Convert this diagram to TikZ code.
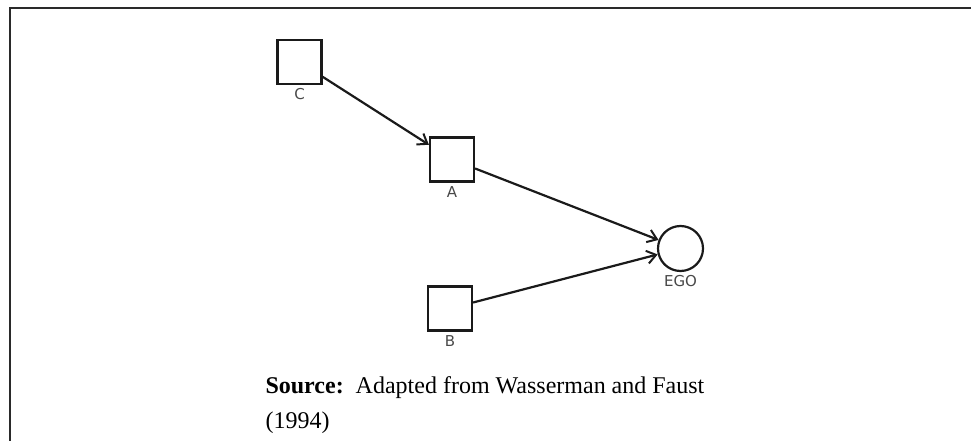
\documentclass[tikz,border=0pt]{standalone}
\usepackage{fontspec}
\setmainfont{Liberation Serif}
\newfontfamily\netfont{DejaVu Sans}
\usetikzlibrary{arrows.meta,positioning}
\definecolor{NetInk}{HTML}{1A1A1A}
\definecolor{NetLabel}{HTML}{484848}
\definecolor{FrameInk}{HTML}{2A2A2A}

\begin{document}
\begin{tikzpicture}[x=1pt,y=-1pt,
      actor/.style={rectangle,draw=NetInk,line width=2.2pt,fill=white,
        minimum size=44pt,inner sep=0pt},
      ego/.style={circle,draw=NetInk,line width=2.2pt,fill=white,
        minimum size=45pt,inner sep=0pt},
      tag/.style={label distance=2pt,label={[font=\netfont\fontsize{15}{16}\selectfont,
        text=NetLabel]below:#1}},
      tie/.style={-{Straight Barb[length=9pt,width=13pt,line width=2pt]},
        line width=2.2pt,color=NetInk}
    ]
      \useasboundingbox (0,0) rectangle (971,441);
      \draw[line width=2.6pt,color=FrameInk] (10,441) -- (10,8) -- (971,8);
      \node[actor,tag=C] (c) at (299.5,62) {};
      \node[actor,tag=A] (a) at (452,159.5) {};
      \node[actor,tag=B] (b) at (450,308.5) {};
      \node[ego,tag=EGO] (e) at (680.5,248.5) {};
      \draw[tie] (c) -- (a);
      \draw[tie] (a) -- (e);
      \draw[tie] (b) -- (e);
      \node[anchor=west,align=left,font=\fontsize{24}{35}\selectfont] (src) at (262,405)
        {\textbf{Source:}\, Adapted from Wasserman and Faust\\(1994)};
    \end{tikzpicture}
\end{document}
